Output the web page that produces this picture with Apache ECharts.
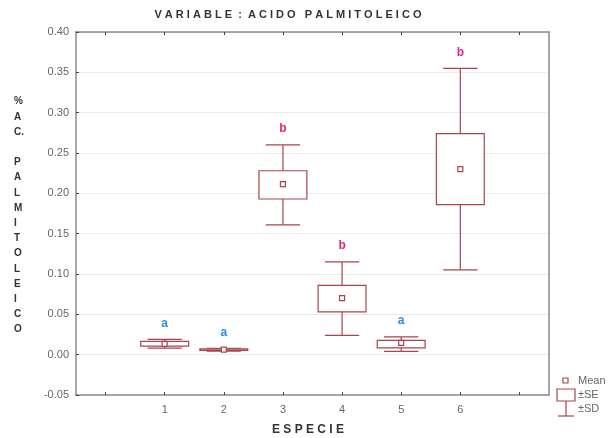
<!DOCTYPE html>
<html>
<head>
<meta charset="utf-8">
<style>
  html, body { margin: 0; padding: 0; background: #ffffff; }
  #chart { width: 615px; height: 438px; }
</style>
<script src="https://cdn.jsdelivr.net/npm/echarts@6/dist/echarts.min.js"></script>
</head>
<body>
<div id="chart"></div>
<script>
// Species on the x axis
const species = ['1', '2', '3', '4', '5', '6'];
// Mean % of palmitoleic acid per species
const meanVals = [0.0135, 0.0062, 0.2115, 0.070, 0.0145, 0.230];
// Mean ± standard error
const seLow  = [0.0105, 0.0052, 0.193, 0.053, 0.0085, 0.186];
const seHigh = [0.0165, 0.0072, 0.228, 0.086, 0.0178, 0.274];
// Mean ± standard deviation
const sdLow  = [0.008, 0.0045, 0.161, 0.024, 0.0040, 0.105];
const sdHigh = [0.019, 0.0078, 0.260, 0.115, 0.0220, 0.355];
// Homogeneous groups
const groups = ['a', 'a', 'b', 'b', 'a', 'b'];
// Y tick values
const yTicks = [-0.05, 0.00, 0.05, 0.10, 0.15, 0.20, 0.25, 0.30, 0.35, 0.40];

const boxColor = '#a8444f';
const groupColors = { a: '#2a8de0', b: '#e0287e' };
const axisGray = '#8a8a8a';
const labelFont = 'Liberation Sans, Arial, sans-serif';

// Empty slots on both ends give the half-band margins of the frame
const axisCats = [''].concat(species, [' ']);

const rows = species.map((s, i) => [i + 1, sdLow[i], seLow[i], meanVals[i], seHigh[i], sdHigh[i], groups[i]]);

function renderBox(params, api) {
  const idx = api.value(0);
  const band = api.size([1, 0])[0];
  const boxW = band * 0.81;
  const capW = band * 0.58;
  const pLo = api.coord([idx, api.value(1)]);
  const pSeLo = api.coord([idx, api.value(2)]);
  const pMean = api.coord([idx, api.value(3)]);
  const pSeHi = api.coord([idx, api.value(4)]);
  const pHi = api.coord([idx, api.value(5)]);
  const cx = pMean[0];
  const line = { stroke: boxColor, lineWidth: 1.2, fill: null };
  const grp = rows[params.dataIndex][6];
  return {
    type: 'group',
    children: [
      { type: 'line', shape: { x1: cx, y1: pHi[1], x2: cx, y2: pSeHi[1] }, style: line },
      { type: 'line', shape: { x1: cx, y1: pSeLo[1], x2: cx, y2: pLo[1] }, style: line },
      { type: 'line', shape: { x1: cx - capW / 2, y1: pHi[1], x2: cx + capW / 2, y2: pHi[1] }, style: line },
      { type: 'line', shape: { x1: cx - capW / 2, y1: pLo[1], x2: cx + capW / 2, y2: pLo[1] }, style: line },
      { type: 'rect', shape: { x: cx - boxW / 2, y: pSeHi[1], width: boxW, height: Math.max(pSeLo[1] - pSeHi[1], 0.5) },
        style: { stroke: boxColor, lineWidth: 1.2, fill: '#ffffff' } },
      { type: 'rect', shape: { x: cx - 2.5, y: pMean[1] - 2.5, width: 5, height: 5 },
        style: { stroke: boxColor, lineWidth: 1.2, fill: '#ffffff' } },
      { type: 'text', x: cx, y: pHi[1] - 10,
        style: { text: grp, fill: groupColors[grp], font: 'bold 12px ' + labelFont, align: 'center', verticalAlign: 'bottom' } }
    ]
  };
}

const chart = echarts.init(document.getElementById('chart'), null, { renderer: 'canvas' });

chart.setOption({
  animation: false,
  backgroundColor: '#ffffff',
  grid: { left: 76, right: 66, top: 32, bottom: 43 },
  xAxis: [
    {
      type: 'category',
      data: axisCats,
      position: 'bottom',
      boundaryGap: true,
      axisLine: { show: true, onZero: false, lineStyle: { color: axisGray, width: 1.5 } },
      axisTick: { show: true, inside: true, length: 3, alignWithLabel: true, lineStyle: { color: '#444' } },
      axisLabel: { color: '#666', fontSize: 11, fontFamily: labelFont, margin: 9 },
      splitLine: { show: false }
    },
    {
      type: 'category',
      data: axisCats,
      position: 'top',
      boundaryGap: true,
      axisLine: { show: true, onZero: false, lineStyle: { color: axisGray, width: 1.5 } },
      axisTick: { show: true, inside: true, length: 3, alignWithLabel: true, lineStyle: { color: '#444' } },
      axisLabel: { show: false },
      splitLine: { show: false }
    }
  ],
  yAxis: [
    {
      type: 'value',
      min: yTicks[0],
      max: yTicks[yTicks.length - 1],
      interval: 0.05,
      axisLine: { show: true, onZero: false, lineStyle: { color: axisGray, width: 1.5 } },
      axisTick: { show: true, inside: true, length: 3, lineStyle: { color: '#444' } },
      axisLabel: { color: '#666', fontSize: 11, fontFamily: labelFont, margin: 7,
        formatter: v => v.toFixed(2) },
      splitLine: { show: true, lineStyle: { color: '#ebebeb', width: 1 } }
    },
    {
      type: 'value',
      min: yTicks[0],
      max: yTicks[yTicks.length - 1],
      interval: 0.05,
      position: 'right',
      axisLine: { show: true, onZero: false, lineStyle: { color: axisGray, width: 1.5 } },
      axisTick: { show: false },
      axisLabel: { show: false },
      splitLine: { show: false }
    }
  ],
  series: [
    {
      type: 'custom',
      xAxisIndex: 0,
      yAxisIndex: 0,
      renderItem: renderBox,
      encode: { x: 0, y: [1, 2, 3, 4, 5] },
      data: rows,
      z: 5
    }
  ],
  graphic: [
    {
      type: 'text', x: 288, y: 9,
      style: { text: 'V A R I A B L E  :  A C I D O   P A L M I T O L E I C O',
        fill: '#333', font: 'bold 11px ' + labelFont, align: 'center' }
    },
    {
      type: 'text', left: 14, top: 94,
      style: { text: '%\nA\nC.\n \nP\nA\nL\nM\nI\nT\nO\nL\nE\nI\nC\nO',
        fill: '#333', font: 'bold 10px ' + labelFont, lineHeight: 15.2, align: 'center' }
    },
    {
      type: 'text', x: 308, y: 424,
      style: { text: 'E S P E C I E', fill: '#333', font: 'bold 12px ' + labelFont, align: 'center' }
    },
    // Legend
    { type: 'rect', shape: { x: 563, y: 378, width: 5, height: 5 },
      style: { stroke: boxColor, lineWidth: 1.2, fill: '#fff' } },
    { type: 'text', left: 578, top: 375, style: { text: 'Mean', fill: '#666', font: '11px ' + labelFont } },
    { type: 'rect', shape: { x: 557, y: 389, width: 18, height: 12 },
      style: { stroke: boxColor, lineWidth: 1.2, fill: '#fff' } },
    { type: 'text', left: 578, top: 389, style: { text: '±SE', fill: '#666', font: '11px ' + labelFont } },
    { type: 'line', shape: { x1: 566, y1: 401, x2: 566, y2: 416 }, style: { stroke: boxColor, lineWidth: 1.2 } },
    { type: 'line', shape: { x1: 558, y1: 416, x2: 574, y2: 416 }, style: { stroke: boxColor, lineWidth: 1.2 } },
    { type: 'text', left: 578, top: 403, style: { text: '±SD', fill: '#666', font: '11px ' + labelFont } }
  ]
});
</script>
</body>
</html>
